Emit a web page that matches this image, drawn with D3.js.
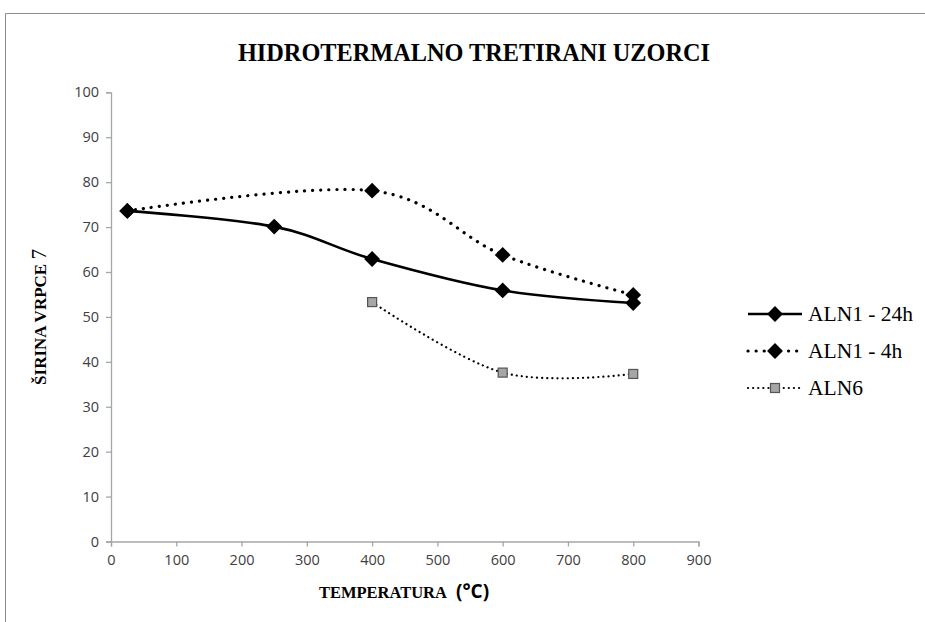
<!DOCTYPE html>
<html>
<head>
<meta charset="utf-8">
<script src="https://cdn.jsdelivr.net/npm/d3@7"></script>
<style>
  html, body { margin: 0; padding: 0; background: #fff; }
  svg { display: block; }
</style>
</head>
<body>
<script>
// Temperature (°C) for each sample series
const temps24h = [25, 250, 400, 600, 800];
const width24h = [73.6, 70.1, 62.9, 55.9, 53.1];

const temps4h = [25, 400, 600, 800];
const width4h = [73.6, 78.1, 63.8, 54.9];

const tempsALN6 = [400, 600, 800];
const widthALN6 = [53.3, 37.6, 37.3];

const seriesNames = ["ALN1 - 24h", "ALN1 - 4h", "ALN6"];
const xTicks = [0, 100, 200, 300, 400, 500, 600, 700, 800, 900];
const yTicks = [0, 10, 20, 30, 40, 50, 60, 70, 80, 90, 100];

const W = 925, H = 622;
const svg = d3.select("body").append("svg").attr("width", W).attr("height", H);

// outer frame (top and left edges)
svg.append("line").attr("x1", 5.5).attr("x2", W).attr("y1", 13.5).attr("y2", 13.5)
  .attr("stroke", "#8c8c8c").attr("stroke-width", 1);
svg.append("line").attr("x1", 5.5).attr("x2", 5.5).attr("y1", 13.5).attr("y2", H)
  .attr("stroke", "#8c8c8c").attr("stroke-width", 1);

const x = d3.scaleLinear().domain([0, 900]).range([111, 698.5]);
const y = d3.scaleLinear().domain([0, 100]).range([541.5, 92.3]);

const serif = "'Liberation Serif', 'Times New Roman', serif";
const tickFont = "'Open Sans', 'Noto Sans', sans-serif";
const axisColor = "#a6a6a6";

// Y axis
const yAxis = svg.append("g").attr("transform", `translate(${x(0)},0)`)
  .call(d3.axisLeft(y).tickValues(yTicks).tickSize(5).tickPadding(7).tickFormat(d3.format("d")));
// X axis
const xAxis = svg.append("g").attr("transform", `translate(0,${y(0)})`)
  .call(d3.axisBottom(x).tickValues(xTicks).tickSize(5).tickPadding(8).tickFormat(d3.format("d")));

[yAxis, xAxis].forEach(g => {
  g.select(".domain").attr("stroke", axisColor).attr("stroke-width", 1.3);
  g.selectAll(".tick line").attr("stroke", axisColor).attr("stroke-width", 1.3);
  g.selectAll(".tick text").attr("fill", "#404040")
    .style("font-family", tickFont).style("font-size", "14.5px");
});

// Smoothed line generator
const line = d3.line()
  .x(d => x(d[0])).y(d => y(d[1]))
  .curve(d3.curveCardinal.tension(0));

const data24h = temps24h.map((t, i) => [t, width24h[i]]);
const data4h = temps4h.map((t, i) => [t, width4h[i]]);
const dataALN6 = tempsALN6.map((t, i) => [t, widthALN6[i]]);

const styles = [
  { stroke: "#000", width: 2.6, dash: null, cap: "butt" },
  { stroke: "#000", width: 3.2, dash: "0.1 8", cap: "round" },
  { stroke: "#000", width: 2.2, dash: "0.1 5", cap: "round" }
];

const plot = svg.append("g");
[data24h, data4h, dataALN6].forEach((d, i) => {
  const s = styles[i];
  plot.append("path").datum(d).attr("d", line)
    .attr("fill", "none").attr("stroke", s.stroke)
    .attr("stroke-width", s.width)
    .attr("stroke-linecap", s.cap)
    .attr("stroke-dasharray", s.dash);
});

const diamond = d3.symbol().type(d3.symbolDiamond2).size(160);
function drawDiamond(g, cx, cy) {
  g.append("path").attr("d", diamond).attr("transform", `translate(${cx},${cy})`)
    .attr("fill", "#000");
}
function drawSquare(g, cx, cy) {
  g.append("rect").attr("x", cx - 4.5).attr("y", cy - 4.5).attr("width", 9).attr("height", 9)
    .attr("fill", "#a6a6a6").attr("stroke", "#555").attr("stroke-width", 1.2);
}

data24h.forEach(d => drawDiamond(plot, x(d[0]), y(d[1])));
data4h.forEach(d => drawDiamond(plot, x(d[0]), y(d[1])));
dataALN6.forEach(d => drawSquare(plot, x(d[0]), y(d[1])));

// Title
svg.append("text").attr("x", 474).attr("y", 61)
  .attr("text-anchor", "middle")
  .style("font-family", serif)
  .style("font-weight", "bold").style("font-size", "24.3px")
  .text("HIDROTERMALNO TRETIRANI UZORCI");

// Y axis title
const yTitle = svg.append("text")
  .attr("transform", "translate(46,317) rotate(-90)")
  .attr("text-anchor", "middle")
  .style("font-family", serif)
  .style("font-weight", "bold").style("font-size", "17px");
yTitle.append("tspan").text("ŠIRINA VRPCE ");
yTitle.append("tspan").style("font-size", "21px").style("font-weight", "normal").text("7");

// X axis title
const xTitle = svg.append("text").attr("x", 404).attr("y", 598)
  .attr("text-anchor", "middle")
  .style("font-family", serif)
  .style("font-weight", "bold").style("font-size", "16.5px");
xTitle.append("tspan").text("TEMPERATURA");
xTitle.append("tspan").attr("dx", 9).style("font-family", tickFont).style("font-size", "19px").text("(°C)");

// Legend
const legend = svg.append("g");
const legendY = [314, 351, 388];
seriesNames.forEach((name, i) => {
  const ly = legendY[i];
  const s = styles[i];
  legend.append("line").attr("x1", 748).attr("x2", 802).attr("y1", ly).attr("y2", ly)
    .attr("stroke", s.stroke).attr("stroke-width", s.width)
    .attr("stroke-linecap", s.cap).attr("stroke-dasharray", s.dash);
  if (i < 2) drawDiamond(legend, 775, ly);
  else drawSquare(legend, 775, ly);
  legend.append("text").attr("x", 808).attr("y", ly + 7)
    .style("font-family", serif)
    .style("font-size", "21.5px").attr("fill", "#000")
    .text(name);
});
</script>
</body>
</html>
